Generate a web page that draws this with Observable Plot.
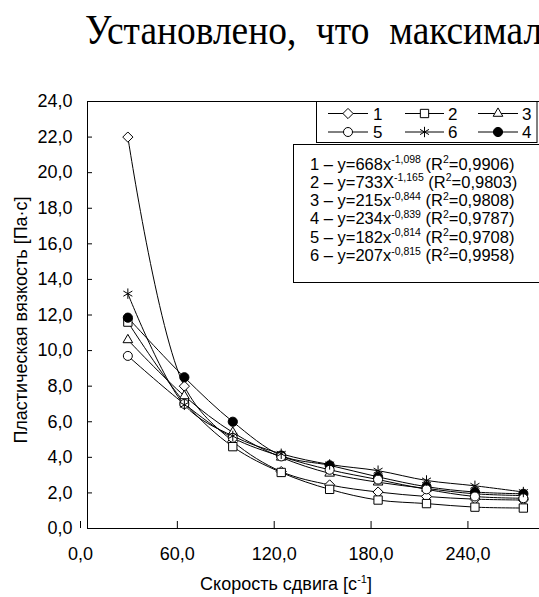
<!DOCTYPE html>
<html><head><meta charset="utf-8">
<script src="https://cdn.jsdelivr.net/npm/d3@7"></script>
<script src="https://cdn.jsdelivr.net/npm/@observablehq/plot@0.6"></script>
<style>
html,body{margin:0;padding:0;background:#fff;overflow:hidden;width:539px;height:597px;}
#wrap{position:relative;width:539px;height:597px;overflow:hidden;}
#chart{position:absolute;left:0;top:0;}
#title{position:absolute;left:85px;top:8px;font-family:"Liberation Serif","Times New Roman",serif;font-size:43px;line-height:43px;white-space:nowrap;word-spacing:12px;transform-origin:0 0;transform:scaleX(0.87);color:#000;}
</style></head><body>
<div id="wrap"><div id="chart"></div><div id="title">Установлено, что максимальная</div></div>
<script>
// ---- data ----
const shearRate = [25, 60, 90, 120, 150, 180, 210, 240, 270];
const series1 = [22.0, 8.0, 4.9, 3.2, 2.45, 2.05, 1.8, 1.65, 1.6];
const series2 = [11.6, 7.1, 4.6, 3.15, 2.2, 1.6, 1.4, 1.2, 1.15];
const series3 = [10.6, 7.45, 5.4, 4.0, 3.1, 2.6, 2.25, 1.95, 1.85];
const series4 = [11.85, 8.5, 6.0, 4.1, 3.55, 2.9, 2.35, 2.05, 1.95];
const series5 = [9.7, 7.0, 5.1, 4.05, 3.3, 2.75, 2.2, 1.8, 1.7];
const series6 = [13.2, 6.95, 5.2, 4.2, 3.6, 3.25, 2.7, 2.4, 2.05];
const seriesNames = ["1", "2", "3", "4", "5", "6"];
const yTicks = [0, 2, 4, 6, 8, 10, 12, 14, 16, 18, 20, 22, 24];
const xTicks = [0, 60, 120, 180, 240];
const eqVar = ["x", "X", "x", "x", "x", "x"];
const eqCoef = ["668", "733", "215", "234", "182", "207"];
const eqExp = ["-1,098", "-1,165", "-0,844", "-0,839", "-0,814", "-0,815"];
const eqR2 = ["0,9906", "0,9803", "0,9808", "0,9787", "0,9708", "0,9958"];
const legendRows = [["1", "2", "3"], ["5", "6", "4"]];
const xLabel = "Скорость сдвига [с";
const yLabel = "Пластическая вязкость [Па·с]";

const allSeries = [series1, series2, series3, series4, series5, series6];
const rows = [];
allSeries.forEach((s, i) => s.forEach((v, j) => rows.push({x: shearRate[j], y: v, s: seriesNames[i]})));

const symbolOf = {"1": "diamond2", "2": "square2", "3": "triangle2", "4": "circle", "5": "circle", "6": "asterisk"};
const rOf = {"1": 4.6, "2": 5.3, "3": 4.6, "4": 4.6, "5": 4.5, "6": 4.9};
const fillOf = {"1": "white", "2": "white", "3": "white", "4": "black", "5": "white", "6": "none"};
const d3Sym = {diamond2: d3.symbolDiamond2, square2: d3.symbolSquare2, triangle2: d3.symbolTriangle2, circle: d3.symbolCircle, asterisk: d3.symbolAsterisk};

const fmt = d => d.toFixed(1).replace(".", ",");
const font = "'Liberation Sans', Arial, sans-serif";

const dotMarks = seriesNames.map(n => Plot.dot(rows.filter(d => d.s === n), {
  x: "x", y: "y", symbol: symbolOf[n], r: rOf[n], fill: fillOf[n], stroke: "black", strokeWidth: 1
}));

const chart = Plot.plot({
  width: 539, height: 597,
  marginTop: 101, marginBottom: 69, marginLeft: 87, marginRight: 0,
  style: {fontFamily: font, fontSize: "18px", color: "black", background: "white"},
  x: {domain: [0, 280]},
  y: {domain: [0, 24]},
  marks: [
    Plot.ruleY([24], {stroke: "black"}),
    Plot.ruleY([0], {stroke: "black"}),
    Plot.ruleX([0], {stroke: "black"}),
    Plot.axisY({ticks: yTicks, tickFormat: fmt, tickSize: -5, tickPadding: 20, fontSize: 18, label: null}),
    Plot.axisX({ticks: xTicks, tickFormat: fmt, tickSize: -7, tickPadding: 26, dx: -7, fontSize: 18, label: null}),
    Plot.line(rows, {x: "x", y: "y", z: "s", curve: "catmull-rom", stroke: "black", strokeWidth: 1}),
    ...dotMarks
  ]
});
document.getElementById("chart").appendChild(chart);

const svg = d3.select(chart);
// axis titles
const xt = svg.append("text").attr("x", 286).attr("y", 590).attr("text-anchor", "middle")
  .attr("font-family", font).attr("font-size", 18).attr("fill", "black");
xt.append("tspan").text(xLabel);
xt.append("tspan").attr("font-size", 11).attr("dy", -7).text("-1");
xt.append("tspan").attr("dy", 7).text("]");
svg.append("text").attr("transform", "translate(27,320) rotate(-90)").attr("text-anchor", "middle")
  .attr("font-family", font).attr("font-size", 18).attr("fill", "black").text(yLabel);

// legend box
const lg = svg.append("g").attr("text-anchor", "start");
lg.append("rect").attr("x", 316.5).attr("y", 101.5).attr("width", 220.5).attr("height", 41)
  .attr("fill", "white").attr("stroke", "black");
const colLine = [[328, 368], [405, 444], [478, 518]];
const colLabel = [373, 448, 522];
const rowY = [113.5, 132];
legendRows.forEach((row, ri) => row.forEach((n, ci) => {
  const [a, b] = colLine[ci];
  const cy = rowY[ri];
  lg.append("line").attr("x1", a).attr("x2", b).attr("y1", cy).attr("y2", cy).attr("stroke", "black");
  const r = rOf[n];
  lg.append("path").attr("transform", `translate(${(a + b) / 2},${cy})`)
    .attr("d", d3.symbol(d3Sym[symbolOf[n]], Math.PI * r * r)())
    .attr("fill", fillOf[n]).attr("stroke", "black");
  lg.append("text").attr("x", colLabel[ci]).attr("y", cy + 6).attr("text-anchor", "start")
    .attr("font-family", font).attr("font-size", 17).attr("fill", "black").text(n);
}));

// equations box
const eg = svg.append("g").attr("text-anchor", "start");
eg.append("rect").attr("x", 293.5).attr("y", 144.5).attr("width", 260).attr("height", 138)
  .attr("fill", "white").attr("stroke", "black");
seriesNames.forEach((n, i) => {
  const t = eg.append("text").attr("x", 310).attr("y", 169.5 + i * 18.3).attr("text-anchor", "start")
    .attr("font-family", font).attr("font-size", 16.5).attr("fill", "black");
  t.append("tspan").text(`${n} – y=${eqCoef[i]}${eqVar[i]}`);
  t.append("tspan").attr("font-size", 10.5).attr("dy", -6.5).text(eqExp[i]);
  t.append("tspan").attr("dy", 6.5).text(" (R");
  t.append("tspan").attr("font-size", 10.5).attr("dy", -6.5).text("2");
  t.append("tspan").attr("dy", 6.5).text(`=${eqR2[i]})`);
});
</script>
</body></html>
